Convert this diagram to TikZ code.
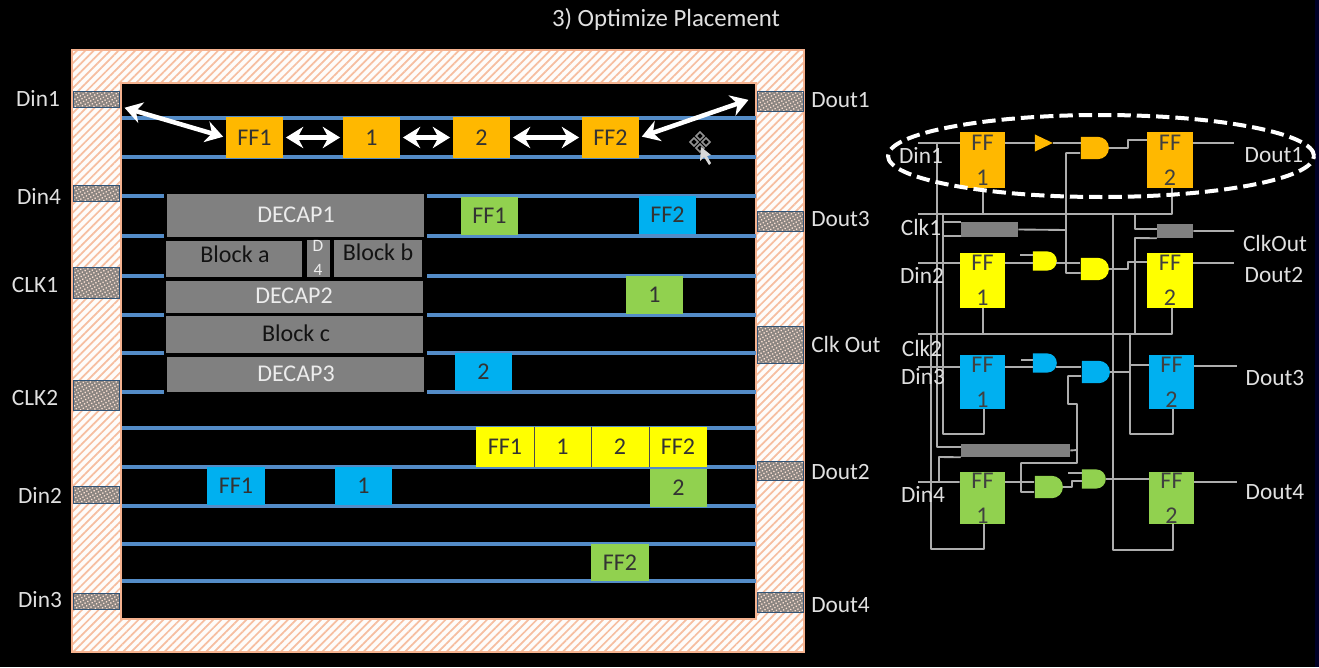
\documentclass[tikz,border=0pt]{standalone}
\usepackage{fontspec}
\setmainfont{Carlito}
\usetikzlibrary{patterns.meta,shapes.gates.logic.US,shapes.geometric,arrows.meta}
\definecolor{ffOrange}{rgb}{1.0, 0.72, 0.0}
\definecolor{ffYellow}{rgb}{1.0, 1.0, 0.0}
\definecolor{ffBlue}{rgb}{0.0, 0.69, 0.94}
\definecolor{ffGreen}{rgb}{0.57, 0.82, 0.31}
\definecolor{blockGray}{rgb}{0.5, 0.5, 0.5}
\definecolor{rowBlue}{rgb}{0.33, 0.55, 0.78}
\definecolor{ringLine}{rgb}{0.96, 0.70, 0.56}
\definecolor{wireGray}{rgb}{0.68, 0.68, 0.68}
\definecolor{labelGray}{rgb}{0.88, 0.88, 0.88}
\tikzset{
    cell/.style={inner sep=0pt, text=black!80, font=\fontsize{18}{18}\selectfont},
    pinlabel/.style={inner sep=0pt, text=labelGray, font=\fontsize{17.5}{18}\selectfont},
    grayblock/.style={inner sep=0pt, font=\fontsize{18}{18}\selectfont},
    pad/.style={draw=rowBlue!60!black, line width=0.5pt, pattern={Dots[distance=2.4pt,radius=0.7pt,angle=30]}, pattern color=white!60!ringLine},
    row/.style={rowBlue, line width=2.4pt},
    wire/.style={wireGray, line width=1.4pt, line join=round},
    move/.style={white, line width=3.4pt, {Stealth[length=13pt,width=16pt]}-{Stealth[length=13pt,width=16pt]}, shorten <=2pt, shorten >=2pt},
    ffbox/.style={inner sep=0pt, align=center, text=black!75, font=\fontsize{18}{26}\selectfont},
    gate/.style={and gate US, inner sep=0pt},
    clkbuf/.style={fill=blockGray, inner sep=0pt},
}
\begin{document}
\begin{tikzpicture}[x=0.75pt,y=-0.75pt]
    \useasboundingbox (0,0) rectangle (1319,667);
    \fill[black] (0,0) rectangle (1319,667);
    \fill[black!85!blue] (1315,0) rectangle (1319,667);

    \node[pinlabel, font=\fontsize{18.6}{19}\selectfont] (title) at (666,19) {3) Optimize Placement};

    % hatched ring of the chip
    \fill[white!96!ringLine] (72,50) rectangle (804,652);
    \fill[pattern={Lines[angle=45,distance=4.4pt,line width=1.3pt]}, pattern color=ringLine!85!white] (72,50) rectangle (804,652);
    \draw[ringLine, line width=1.8pt] (72,50) rectangle (804,652);
    \fill[black] (121,83) rectangle (756,619);
    \draw[ringLine, line width=1.8pt] (121,83) rectangle (756,619);

    % left pads
    \foreach \y/\h/\txt/\lx/\ly in {91/16/Din1/38/98, 185/16/Din4/39/196, 267/31/CLK1/35/285, 380/30/CLK2/35/398, 486/17/Din2/40/495, 593/16/Din3/40/600} {
        \fill[blockGray!90!ringLine] (73,\y) rectangle (119,\y+\h);
        \draw[pad] (73,\y) rectangle (119,\y+\h);
        \node[pinlabel] (pin\txt) at (\lx,\ly) {\txt};
    }
    % right pads
    \foreach \y/\h/\txt/\ly in {91/20/Dout1/100, 211/20/Dout3/219, 326/37/Clk Out/344, 461/19/Dout2/472, 592/20/Dout4/605} {
        \fill[blockGray!90!ringLine] (757,\y) rectangle (803,\y+\h);
        \draw[pad] (757,\y) rectangle (803,\y+\h);
        \node[pinlabel, anchor=west] (pin\txt) at (811,\ly) {\txt};
    }

    % placement rows
    \foreach \y in {118,157,428,467,506,544,581} {
        \draw[row] (122,\y) -- (756,\y);
    }
    \foreach \y in {196,236,276,315,353,392} {
        \draw[row] (122,\y) -- (164,\y);
        \draw[row] (427,\y) -- (756,\y);
    }

    % blocks
    \foreach \x/\y/\xx/\yy/\nm/\txt/\tx/\ty/\col in {167/194/424/237/dcapa/DECAP1/296/215/white, 166/241/302/277/blka/Block a/235/254/black, 334/240/422/277/blkb/Block b/378/252/black, 166/281/423/313/dcapb/DECAP2/294/296/white, 166/316/423/353/blkc/Block c/296/333/black, 167/357/424/392/dcapc/DECAP3/296/374/white} {
        \fill[blockGray] (\x,\y) rectangle (\xx,\yy);
        \node[grayblock, text=\col!85!gray] (\nm) at (\tx,\ty) {\txt};
    }
    \fill[blockGray] (307,240) rectangle (330,277);
    \node[grayblock, text=white!85!gray, align=center, font=\fontsize{13}{18}\selectfont] (dcapd) at (318,258) {D\\4};

    % placed cells
    \foreach \x/\y/\xx/\yy/\col/\nm/\txt in {
        226/117/283/158/ffOrange/oa/FF1, 343/117/400/158/ffOrange/ob/1, 453/117/510/158/ffOrange/oc/2, 582/117/639/158/ffOrange/od/FF2,
        476/427/534/467/ffYellow/ya/FF1, 534/427/591/467/ffYellow/yb/1, 591/427/649/467/ffYellow/yc/2, 649/427/707/467/ffYellow/yd/FF2,
        207/467/265/505/ffBlue/ba/FF1, 335/467/392/505/ffBlue/bb/1, 455/353/512/391/ffBlue/bc/2, 639/196/696/234/ffBlue/bd/FF2,
        461/197/518/235/ffGreen/ga/FF1, 626/276/683/314/ffGreen/gb/1, 650/469/707/507/ffGreen/gc/2, 591/544/649/581/ffGreen/gd/FF2} {
        \pgfmathsetmacro{\cw}{(\xx-\x)*0.75}
        \pgfmathsetmacro{\ch}{(\yy-\y)*0.75}
        \node[cell, fill=\col, minimum width=\cw pt, minimum height=\ch pt] (\nm) at ({(\x+\xx)/2},{(\y+\yy)/2}) {\txt};
    }
    \draw[black!70, line width=0.6pt] (ya.north east) -- (ya.south east) (yb.north east) -- (yb.south east) (yc.north east) -- (yc.south east);

    % moves of the orange chain
    \coordinate (dinend) at (122,107);
    \coordinate (doutend) at (751,99);
    \draw[move] (dinend) -- (oa.west);
    \draw[move] (oa.east) -- (ob.west);
    \draw[move] (ob.east) -- (oc.west);
    \draw[move] (oc.east) -- (od.west);
    \draw[move] (od.east) -- (doutend);

    % mouse pointer with move handle
    \foreach \dx/\dy in {-6/0, 6/0, 0/-6, 0/6} {
        \draw[gray!85, line width=1.1pt, fill=black] (700+\dx-4,142+\dy) -- (700+\dx,142+\dy-4) -- (700+\dx+4,142+\dy) -- (700+\dx,142+\dy+4) -- cycle;
    }
    \fill[gray!30] (701,147) -- (700,161) -- (704,157) -- (709,165) -- (711,163) -- (707,156) -- (711,155) -- cycle;

    % schematic: flip flops
    \foreach \x/\y/\xx/\yy/\col/\nm/\bot in {
        960/132/1005/188/ffOrange/soa/1, 1147/132/1193/188/ffOrange/sob/2,
        960/253/1005/308/ffYellow/sya/1, 1147/253/1193/308/ffYellow/syb/2,
        960/355/1005/409/ffBlue/sba/1, 1149/355/1194/409/ffBlue/sbb/2,
        960/472/1005/524/ffGreen/sga/1, 1149/472/1194/524/ffGreen/sgb/2} {
        \pgfmathsetmacro{\cw}{(\xx-\x)*0.75}
        \pgfmathsetmacro{\ch}{(\yy-\y)*0.75}
        \node[ffbox, fill=\col, minimum width=\cw pt, minimum height=\ch pt] (\nm) at ({(\x+\xx)/2},{(\y+\yy)/2}) {FF\\\bot};
    }

    % schematic: clock buffers
    \node[clkbuf, minimum width=42.75pt, minimum height=11.25pt] (clka) at (989.5,229.5) {};
    \node[clkbuf, minimum width=27pt, minimum height=10.5pt] (clkb) at (1175,231) {};
    \node[clkbuf, minimum width=81.75pt, minimum height=9.75pt] (clkc) at (1015.5,450.5) {};

    % schematic: gates
    \node[gate, fill=ffOrange, minimum width=21pt, minimum height=14pt] (goa) at (1094,148) {};
    \node[gate, fill=ffYellow, minimum width=21pt, minimum height=14pt] (gyb) at (1094,269) {};
    \node[gate, fill=ffBlue, minimum width=21pt, minimum height=13pt] (gbb) at (1095,372) {};
    \node[gate, fill=ffGreen, minimum width=21pt, minimum height=14pt] (gga) at (1048,487) {};
    \node[gate, fill=ffYellow, minimum width=17pt, minimum height=11pt] (gya) at (1044,261) {};
    \node[gate, fill=ffBlue, minimum width=17pt, minimum height=13pt] (gba) at (1044,363) {};
    \node[gate, fill=ffGreen, minimum width=17pt, minimum height=11pt] (ggb) at (1093,479) {};
    \node[buffer gate US, fill=ffOrange, inner sep=0pt, minimum width=12pt, minimum height=11pt] (bufa) at (1041,143) {};

    % schematic: orange path
    \draw[wire] (918,143) -- (918,143 -| soa.west) (1005,143) -- (bufa.west) (bufa.east) -- (bufa.east -| goa.west);
    \draw[wire] (goa.east) -- (1128,148) -- (1128,140) -- (1128,140 -| sob.west) (1193,143) -- (1234,143);
    \draw[wire] (1080,153) -- (1066,153) -- (1066,273) -- (1066,273 -| gyb.west) (clka.east) -- (1066,230);
    \draw[wire] (937,143) -- (937,447) -- (937,447 -| clkc.west);
    \draw[wire] (918,214) -- (1172,214) -- (1172,214 |- sob.south);
    \draw[wire] (983,214) -- (983,214 |- soa.south);
    \draw[wire] (943,214) -- (943,434) -- (984,434) -- (984,434 |- sba.south);
    \draw[wire] (942,222) -- (942,222 -| clka.west) (942,236) -- (942,236 -| clka.west);
    \draw[wire] (1135,214) -- (1135,229) -- (1135,229 -| clkb.west) (clkb.south west) -- (1135,238) -- (1135,334) (clkb.east) -- (1234,231);
    \draw[wire] (1113,214) -- (1113,550) -- (1173,550) -- (1173,550 |- sgb.south);
    % schematic: yellow path
    \draw[wire] (918,263) -- (918,263 -| sya.west) (1005,263) -- (1033,263) (1020,255) -- (1033,255) (1056,263) -- (1080,263);
    \draw[wire] (gyb.east) -- (1128,269) -- (1128,262) -- (1128,262 -| syb.west) (1193,263) -- (1234,263);
    \draw[wire] (918,334) -- (1172,334) -- (1172,334 |- syb.south) (983,334) -- (983,334 |- sya.south);
    % schematic: blue path
    \draw[wire] (931,334) -- (931,549) -- (984,549) -- (984,549 |- sga.south);
    \draw[wire] (918,367) -- (918,367 -| sba.west) (1005,367) -- (1033,367) (1021,360) -- (1033,360) (1056,367) -- (1081,367);
    \draw[wire] (gbb.east) -- (1130,372) (1130,334) -- (1130,434) -- (1173,434) -- (1173,434 |- sbb.south) (1130,365) -- (1130,365 -| sbb.west) (1194,366) -- (1237,366);
    \draw[wire] (1081,376) -- (1068,376) -- (1068,404) -- (1077,404) -- (1077,463) -- (1021,463) -- (1021,492) -- (1034,492) (clkc.east) -- (1077,450);
    % schematic: green path
    \draw[wire] (clkc.south west) -- (939,457) -- (939,482) (918,482) -- (918,482 -| sga.west) (1005,482) -- (1034,482);
    \draw[wire] (gga.east) -- (1072,487) -- (1072,481) -- (1082,481) (1068,473) -- (1082,473) (ggb.east) -- (ggb.east -| sgb.west) (1194,482) -- (1237,482);

    % schematic: pin names
    \foreach \x/\y/\txt/\nm in {921/155/Din1/sa, 921/227/Clk1/sb, 922/275/Din2/sc, 922/348/Clk2/sd, 923/377/Din3/se, 923/494/Din4/sf,
        1274/155/Dout1/sg, 1275/243/ClkOut/sh, 1274/275/Dout2/si, 1275/378/Dout3/sj, 1275/492/Dout4/sk} {
        \node[pinlabel] (\nm) at (\x,\y) {\txt};
    }

    % critical path marker
    \node[draw=white, dash pattern=on 10pt off 4.5pt, line width=3pt, ellipse, inner sep=0pt, minimum width=426*0.75pt, minimum height=82*0.75pt] (critical) at (1101,156) {};
\end{tikzpicture}
\end{document}
